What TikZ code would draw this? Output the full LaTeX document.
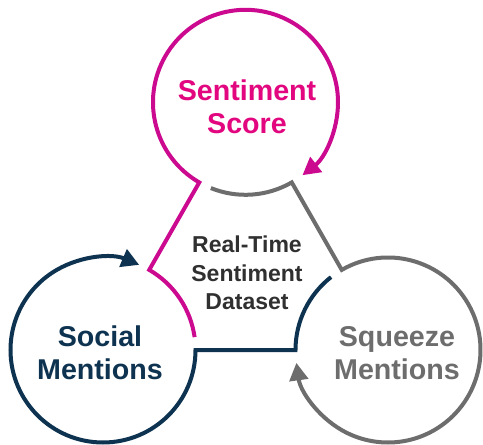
\documentclass[tikz,border=0pt]{standalone}
\usepackage{fontspec}
\setmainfont{Liberation Sans}
\usetikzlibrary{calc,arrows.meta}
\definecolor{scorepink}{HTML}{CC0A8F}
\definecolor{scoretext}{HTML}{E2067F}
\definecolor{socialnavy}{HTML}{0E3350}
\definecolor{squeezegray}{HTML}{6D6D6D}
\definecolor{datadark}{HTML}{303030}
\def\R{1.85}
\tikzset{
	ring/.style={line width=0.8mm, line join=miter},
	ringtip/.style={-{Triangle[length=3.5mm,width=3.7mm]}},
	ringtext/.style={font=\bfseries\fontsize{16.3}{19}\selectfont, align=center},
	coretext/.style={font=\bfseries\fontsize{13.1}{16.2}\selectfont, align=center, text=datadark}
}

\begin{document}
\begin{tikzpicture}
			%%%%% START %%%%%
			\useasboundingbox (0, 0) rectangle (9.66, 8.88);
			
			\coordinate (score) at (4.91, 6.834);
			\coordinate (social) at (2.06, 1.88);
			\coordinate (squeeze) at (7.76, 1.88);
			
			% pink ring, entering from the social ring
			\draw[ring, ringtip, color=scorepink] ($(social)+(8:\R)$) arc (8:60:\R) -- ($(score)+(-120:\R)$) arc (-120:-412:\R);
			
			% navy ring, entering from the squeeze ring
			\draw[ring, ringtip, color=socialnavy] ($(squeeze)+(128:\R)$) arc (128:180:\R) -- ($(social)+(0:\R)$) arc (0:-293:\R);
			
			% gray ring, entering from the score ring
			\draw[ring, ringtip, color=squeezegray] ($(score)+(-112:\R)$) arc (-112:-60:\R) -- ($(squeeze)+(120:\R)$) arc (120:-172:\R);
			
			\node[ringtext, text=scoretext] (scorelabel) at (4.94, 6.74) {Sentiment\\Score};
			\node[ringtext, text=socialnavy] (sociallabel) at (2.0, 1.82) {Social\\Mentions};
			\node[ringtext, text=squeezegray] (squeezelabel) at (7.94, 1.82) {Squeeze\\Mentions};
			\node[coretext] (corelabel) at (4.94, 3.42) {Real-Time\\Sentiment\\Dataset};
			
			%%%%% END %%%%%
		\end{tikzpicture}
\end{document}
